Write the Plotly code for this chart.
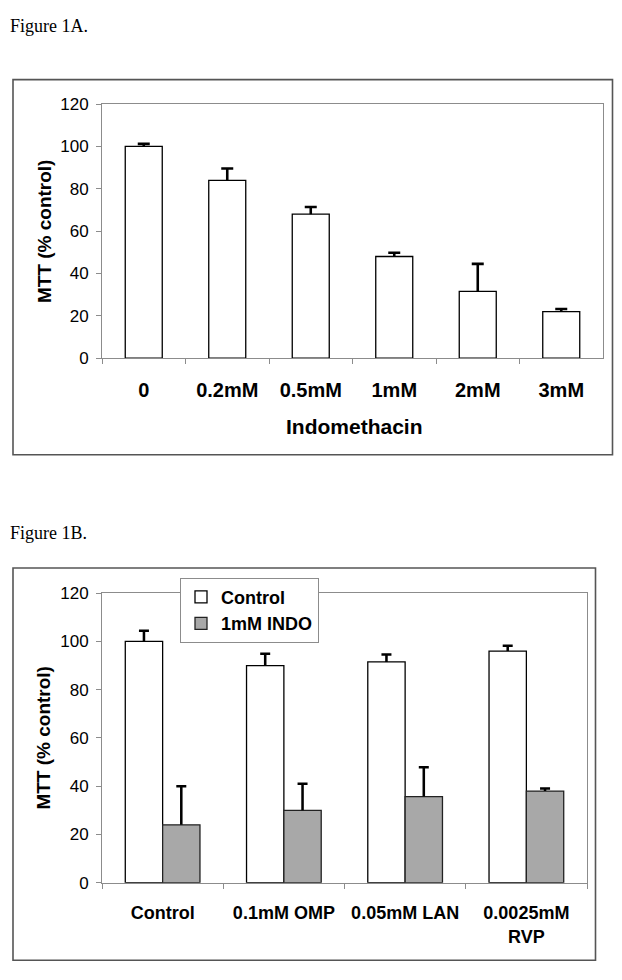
import plotly.graph_objects as go

# ---------- data ----------
a_categories = ["0", "0.2mM", "0.5mM", "1mM", "2mM", "3mM"]
a_values = [100, 84, 68, 48, 31.5, 22]
a_errors = [1.2, 5.6, 3.4, 1.8, 13, 1.2]

b_categories = ["Control", "0.1mM OMP", "0.05mM LAN", "0.0025mM RVP"]
b_ticktext = ["Control", "0.1mM OMP", "0.05mM LAN", "0.0025mM<br>RVP"]
b_control = [100, 90, 91.5, 96]
b_control_err = [4.4, 4.9, 3.1, 2.2]
b_indo = [24, 30, 35.7, 38]
b_indo_err = [16, 11, 12.2, 1]

y_ticks = [0, 20, 40, 60, 80, 100, 120]

W, H = 622, 980
FONT = "Liberation Sans, Arial, sans-serif"
AXIS_GRAY = "#8c8c8c"
BOX_GRAY = "#555555"
BAR_GRAY = "#a8a8a8"

def px_x(x):
    return x / W

def px_y(y):
    return 1 - y / H

# bar geometry (category units)
A_BAR_W = 0.443
A_STEM_W = 0.031
B_BAR_W = 0.308
B_STEM_W = 0.021

fig = go.Figure()

# ---------- Panel A ----------
fig.add_trace(go.Bar(
    x=a_categories, y=a_values, xaxis="x", yaxis="y",
    width=A_BAR_W, offset=-A_BAR_W / 2,
    marker=dict(color="white", line=dict(color="black", width=1.3)),
    showlegend=False, hoverinfo="skip",
))
# error bar stems (upper only) + caps
fig.add_trace(go.Bar(
    x=a_categories, y=a_errors, base=a_values, xaxis="x", yaxis="y",
    width=A_STEM_W, offset=-A_STEM_W / 2,
    marker=dict(color="black", line=dict(width=0)),
    error_y=dict(type="data", symmetric=False, array=[0] * len(a_errors),
                 arrayminus=[0] * len(a_errors), color="black",
                 thickness=2.6, width=6),
    showlegend=False, hoverinfo="skip",
))

# ---------- Panel B ----------
fig.add_trace(go.Bar(
    x=b_categories, y=b_control, xaxis="x2", yaxis="y2",
    name="Control", width=B_BAR_W, offset=-B_BAR_W,
    marker=dict(color="white", line=dict(color="black", width=1.3)),
))
fig.add_trace(go.Bar(
    x=b_categories, y=b_indo, xaxis="x2", yaxis="y2",
    name="1mM INDO", width=B_BAR_W, offset=0,
    marker=dict(color=BAR_GRAY, line=dict(color="#222222", width=1.3)),
))
fig.add_trace(go.Bar(
    x=b_categories, y=b_control_err, base=b_control, xaxis="x2", yaxis="y2",
    width=B_STEM_W, offset=-B_BAR_W / 2 - B_STEM_W / 2,
    marker=dict(color="black", line=dict(width=0)),
    error_y=dict(type="data", symmetric=False, array=[0] * len(b_control_err),
                 arrayminus=[0] * len(b_control_err), color="black",
                 thickness=2.5, width=5),
    showlegend=False, hoverinfo="skip",
))
fig.add_trace(go.Bar(
    x=b_categories, y=b_indo_err, base=b_indo, xaxis="x2", yaxis="y2",
    width=B_STEM_W, offset=B_BAR_W / 2 - B_STEM_W / 2,
    marker=dict(color="black", line=dict(width=0)),
    error_y=dict(type="data", symmetric=False, array=[0] * len(b_indo_err),
                 arrayminus=[0] * len(b_indo_err), color="black",
                 thickness=2.5, width=5),
    showlegend=False, hoverinfo="skip",
))

xaxis_common = dict(
    type="category", showline=True, linecolor=AXIS_GRAY, linewidth=1,
    mirror=True, ticks="outside", tickson="boundaries", ticklen=5,
    tickcolor=AXIS_GRAY, showgrid=False, zeroline=False,
)
yaxis_common = dict(
    range=[0, 120], tickvals=y_ticks, showline=True, linecolor=AXIS_GRAY,
    linewidth=1, mirror=True, ticks="outside", ticklen=5,
    tickcolor=AXIS_GRAY, showgrid=False, zeroline=False,
    tickfont=dict(family=FONT, size=17, color="black"),
    ticklabelstandoff=4,
)

fig.update_layout(
    width=W, height=H,
    margin=dict(l=0, r=0, t=0, b=0),
    paper_bgcolor="white", plot_bgcolor="white",
    barmode="overlay",
    xaxis=dict(**xaxis_common, domain=[px_x(102), px_x(603)], anchor="y",
               range=[-0.5, len(a_categories) - 0.5],
               tickfont=dict(family=FONT, size=20, color="black", weight="bold"),
               ticklabelstandoff=14),
    yaxis=dict(**yaxis_common, domain=[px_y(356), px_y(97)], anchor="x"),
    xaxis2=dict(**xaxis_common, domain=[px_x(102), px_x(587)], anchor="y2",
                range=[-0.5, len(b_categories) - 0.5],
                tickvals=b_categories, ticktext=b_ticktext,
                tickfont=dict(family=FONT, size=18, color="black", weight="bold"),
                ticklabelstandoff=14),
    yaxis2=dict(**yaxis_common, domain=[px_y(891), px_y(595.7)], anchor="x2"),
    legend=dict(x=px_x(180), y=px_y(580), xanchor="left", yanchor="top",
                bgcolor="white", bordercolor=AXIS_GRAY, borderwidth=1,
                font=dict(family=FONT, size=18, color="black", weight="bold"),
                traceorder="normal", tracegroupgap=0),
    showlegend=True,
)

shapes = [
    dict(type="rect", xref="paper", yref="paper",
         x0=px_x(13), x1=px_x(612.5), y0=px_y(454.5), y1=px_y(72),
         line=dict(color=BOX_GRAY, width=1.6), fillcolor="rgba(0,0,0,0)", layer="below"),
    dict(type="rect", xref="paper", yref="paper",
         x0=px_x(13), x1=px_x(595.5), y0=px_y(970), y1=px_y(570),
         line=dict(color=BOX_GRAY, width=1.6), fillcolor="rgba(0,0,0,0)", layer="below"),
]
fig.update_layout(shapes=shapes)

annotations = [
    dict(text="Figure 1A.", xref="paper", yref="paper", x=px_x(8), y=px_y(17),
         xanchor="left", yanchor="middle", showarrow=False,
         font=dict(family="Liberation Serif, Times New Roman, serif", size=18, color="black")),
    dict(text="Figure 1B.", xref="paper", yref="paper", x=px_x(8), y=px_y(534),
         xanchor="left", yanchor="middle", showarrow=False,
         font=dict(family="Liberation Serif, Times New Roman, serif", size=18, color="black")),
    dict(text="MTT (% control)", xref="paper", yref="paper", x=px_x(44), y=px_y(226.5),
         xanchor="center", yanchor="middle", textangle=-90, showarrow=False,
         font=dict(family=FONT, size=19, color="black", weight="bold")),
    dict(text="MTT (% control)", xref="paper", yref="paper", x=px_x(44), y=px_y(743),
         xanchor="center", yanchor="middle", textangle=-90, showarrow=False,
         font=dict(family=FONT, size=19, color="black", weight="bold")),
    dict(text="Indomethacin", xref="paper", yref="paper", x=px_x(354), y=px_y(426),
         xanchor="center", yanchor="middle", showarrow=False,
         font=dict(family=FONT, size=21, color="black", weight="bold")),
]
fig.update_layout(annotations=annotations)

# remove the browser's default 8px body margin so the figure fills the window
fig.write_html("out.html", post_script="document.body.style.margin='0';",
               config={"displayModeBar": False})
